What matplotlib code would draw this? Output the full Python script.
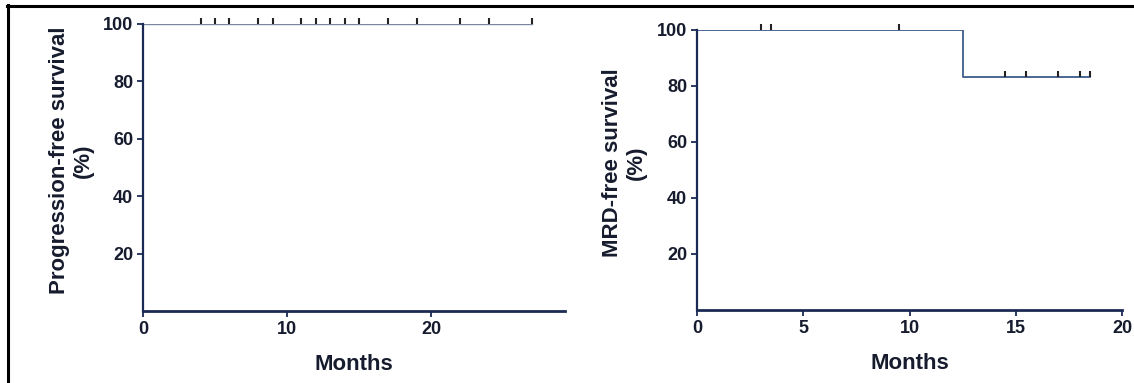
import matplotlib
matplotlib.use("Agg")
import matplotlib.pyplot as plt
from matplotlib.lines import Line2D
import numpy as np

plt.rcParams['font.family'] = ['Liberation Sans', 'DejaVu Sans']

# progression-free survival (left panel)
pfs_time = [0, 27]
pfs_surv = [100, 100]
pfs_censor = [4, 5, 6, 8, 9, 11, 12, 13, 14, 15, 17, 19, 22, 24, 27]

# MRD-free survival (right panel)
mrd_time = [0, 12.5, 18.5]
mrd_surv = [100, 83.3, 83.3]
mrd_censor = [3, 3.5, 9.5, 14.5, 15.5, 17, 18, 18.5]

yticks = [20, 40, 60, 80, 100]

W, H = 1134, 383
fig = plt.figure(figsize=(W / 100, H / 100), dpi=100)

navy = '#1b2a55'
txt = '#161c2e'
tick_marker = [(0, 0), (0, 1)]


def px_axes(x0, x1, y_top, y_bot):
    return fig.add_axes([x0 / W, 1 - y_bot / H, (x1 - x0) / W, (y_bot - y_top) / H])


def level_at(times, surv, t):
    idx = np.searchsorted(times, t, side='right') - 1
    return np.asarray(surv)[idx]


def style(ax, xlim, xticks, label, lx):
    ax.set_xlim(*xlim)
    ax.set_ylim(0, 100)
    ax.set_xticks(xticks)
    ax.set_yticks(yticks)
    for s in ['top', 'right']:
        ax.spines[s].set_visible(False)
    ax.spines['left'].set_color(navy)
    ax.spines['left'].set_linewidth(1.6)
    ax.spines['bottom'].set_color(navy)
    ax.spines['bottom'].set_linewidth(2.0)
    ax.tick_params(axis='both', colors=navy, length=4, width=1.3,
                   labelsize=13, labelcolor=txt, pad=3)
    for lab in ax.get_xticklabels() + ax.get_yticklabels():
        lab.set_fontweight('bold')
    ax.set_xlabel('Months', fontsize=16, fontweight='bold', color=txt, labelpad=12)
    ax.text(lx, 0.525, label, transform=ax.transAxes, rotation=90,
            ha='center', va='center', ma='center', fontsize=16,
            fontweight='bold', color=txt, linespacing=1.2)
    ax.patch.set_alpha(0)


ax1 = px_axes(143, 565, 24, 311)
ax1.step(pfs_time, pfs_surv, where='post', color='#7a879c', lw=1.0)
ax1.plot(pfs_censor, level_at(pfs_time, pfs_surv, pfs_censor), ls='none',
         marker=tick_marker, ms=8, mew=1.5, color='#222222', clip_on=False)
style(ax1, (0, 29.3), [0, 10, 20], 'Progression-free survival\n(%)', -0.17)

ax2 = px_axes(697, 1122, 30, 310)
ax2.step(mrd_time, mrd_surv, where='post', color='#3d5a8a', lw=1.3)
ax2.plot(mrd_censor, level_at(mrd_time, mrd_surv, mrd_censor), ls='none',
         marker=tick_marker, ms=8, mew=1.5, color='#222222', clip_on=False)
style(ax2, (0, 20), [0, 5, 10, 15, 20], 'MRD-free survival\n(%)', -0.171)

# black frame from the screenshot (left and top edges)
fig.add_artist(Line2D([8 / W, 8 / W], [0, 1 - 5 / H], color='black', lw=2.2,
                      transform=fig.transFigure))
fig.add_artist(Line2D([7 / W, 1], [1 - 6 / H, 1 - 6 / H], color='black', lw=2.2,
                      transform=fig.transFigure))

fig.savefig('out.png', dpi=100)
